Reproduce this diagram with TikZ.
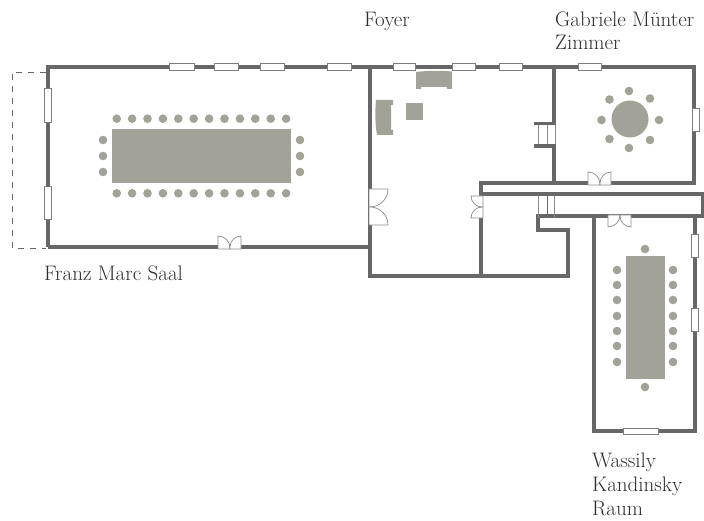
\documentclass[tikz,border=0pt]{standalone}
\usepackage{fontspec}
\definecolor{wallgrey}{HTML}{676767}
\definecolor{tablegrey}{HTML}{A3A298}
\definecolor{framegrey}{HTML}{8C8C88}
\definecolor{labelgrey}{HTML}{2E2E2E}
\tikzset{
  wall/.style={draw=wallgrey,line width=3.4pt,line cap=butt,line join=miter},
  window/.style={draw=wallgrey!85,fill=white,line width=1pt},
  leaf/.style={draw=framegrey,fill=white,line width=0.7pt},
  stair/.style={draw=framegrey,line width=1pt},
  furniture/.style={fill=tablegrey},
  chair/.style={circle,fill=tablegrey,inner sep=0pt,minimum size=8.6pt},
  roomlabel/.style={anchor=base west,inner sep=0pt,text=labelgrey,font=\fontsize{21}{23}\selectfont\addfontfeatures{FakeBold=0.2}}
}
\begin{document}
\begin{tikzpicture}[x=1pt,y=-1pt]
  \useasboundingbox (0,0) rectangle (704,521);
  % terrace
  \draw[draw=wallgrey,line width=0.9pt,dash pattern=on 6pt off 6pt]
    (46,72) -- (12,72) -- (12,248) -- (46,248);
  % walls
  \draw[wall] (48,247) -- (48,67) -- (694,67) -- (694,183) -- (481,183) -- (481,276);
  \draw[wall] (48,247) -- (370,247);
  \draw[wall] (370,67) -- (370,276) -- (568,276) -- (568,230) -- (538,230) -- (538,216) -- (703,216) -- (703,194) -- (481,194);
  \draw[wall] (554,67) -- (554,183);
  \draw[wall] (534,123.5) -- (556,123.5);
  \draw[wall] (534,146) -- (556,146);
  \draw[wall] (594,216) -- (594,431) -- (695,431) -- (695,216);
  % stairs
  \fill[white] (536,125.5) rectangle (556,144);
  \begin{scope}[stair]
    \draw (538,125) -- (538,144);
    \draw (547,125) -- (547,144);
    \draw (555.5,125) -- (555.5,144);
    \fill[white] (536,196) rectangle (556,214);
    \draw (538,196) -- (538,218);
    \draw[draw=wallgrey] (547,196) -- (547,218);
    \draw (554,196) -- (554,218);
  \end{scope}
  % windows
  \foreach \xa/\xb in {169/194,214/238,260/284,327/351,393/415,452/475,499/522,578/601}
    \draw[window] (\xa,63.5) rectangle (\xb,70.5);
  \draw[window] (44.5,89) rectangle (51.5,123);
  \draw[window] (44.5,187) rectangle (51.5,220);
  \draw[window] (692,109) rectangle (699,132);
  \draw[window] (691.5,235) rectangle (698.5,258);
  \draw[window] (691.5,309) rectangle (698.5,331);
  \draw[window] (623,428) rectangle (658,434.5);
  % doors
  \draw[leaf] (218,249) -- (218,236) arc[start angle=-90,end angle=0,radius=12] -- (230,249) -- cycle;
  \draw[leaf] (241,249) -- (241,236) arc[start angle=-90,end angle=-180,radius=11] -- (230,249) -- cycle;
  \draw[leaf] (588,185) -- (588,172) arc[start angle=-90,end angle=0,radius=12] -- (600,185) -- cycle;
  \draw[leaf] (611,185) -- (611,172) arc[start angle=-90,end angle=-180,radius=11] -- (600,185) -- cycle;
  \draw[leaf] (608,215) -- (608,227) arc[start angle=90,end angle=0,radius=12] -- (620,215) -- cycle;
  \draw[leaf] (631,215) -- (631,227) arc[start angle=90,end angle=180,radius=11] -- (620,215) -- cycle;
  \draw[leaf] (369,189) -- (388,189) arc[start angle=0,end angle=90,radius=18] -- (369,207) -- cycle;
  \draw[leaf] (369,225) -- (388,225) arc[start angle=0,end angle=-90,radius=18] -- (369,207) -- cycle;
  \draw[leaf] (483,196) -- (471,196) arc[start angle=180,end angle=90,radius=11] -- (483,207) -- cycle;
  \draw[leaf] (483,218) -- (471,218) arc[start angle=180,end angle=270,radius=11] -- (483,207) -- cycle;
  % Franz Marc Saal
  \fill[furniture] (112,129) rectangle (291,183);
  \foreach \n in {0,...,11} {
    \node[chair] (saaltop\n) at (116.7+15.4*\n,118.7) {};
    \node[chair] (saalbottom\n) at (116.7+15.4*\n,193.3) {};
  }
  \foreach \n/\y in {0/140,1/156,2/172} {
    \node[chair] (saalleft\n) at (103,\y) {};
    \node[chair] (saalright\n) at (300,\y) {};
  }
  % Foyer
  \fill[furniture] (416,72) .. controls (428,70.5) and (440,70.5) .. (452,71.5) -- (452,89) -- (447,89) -- (447,87) -- (421,87) -- (421,89) -- (416,89) -- cycle;
  \fill[furniture] (376,100) -- (393,100) -- (393,105) -- (391,105) -- (391,130) -- (393,130) -- (393,135) -- (377,135) .. controls (375,123) and (375,112) .. (376,100);
  \fill[furniture] (406,103) rectangle (423,120);
  % Gabriele Muenter Zimmer
  \node[circle,fill=tablegrey,inner sep=0pt,minimum size=37pt] (roundtable) at (630,119) {};
  \foreach \n/\x/\y in {0/629/91,1/609.5/99.5,2/650/98.5,3/601.5/120,4/659/120,5/609.5/139,6/650/140,7/629/148}
    \node[chair] (zimmer\n) at (\x,\y) {};
  % Wassily Kandinsky Raum
  \fill[furniture] (626,256) rectangle (665,379);
  \foreach \n/\y in {0/270,1/285,2/300,3/316,4/331,5/346,6/362} {
    \node[chair] (raumleft\n) at (617,\y) {};
    \node[chair] (raumright\n) at (673,\y) {};
  }
  \node[chair] (raumtop) at (645,249) {};
  \node[chair] (raumbottom) at (645,387) {};
  % labels
  \node[roomlabel] (saal) at (44,280) {Franz Marc Saal};
  \node[roomlabel] (foyer) at (364,26.5) {Foyer};
  \node[roomlabel] (gabriele) at (555,26.5) {Gabriele Münter};
  \node[roomlabel] (zimmer) at (555,50) {Zimmer};
  \node[roomlabel] (wassily) at (592,467) {Wassily};
  \node[roomlabel] (kandinsky) at (592,491.5) {Kandinsky};
  \node[roomlabel] (raum) at (592,515) {Raum};
\end{tikzpicture}
\end{document}
